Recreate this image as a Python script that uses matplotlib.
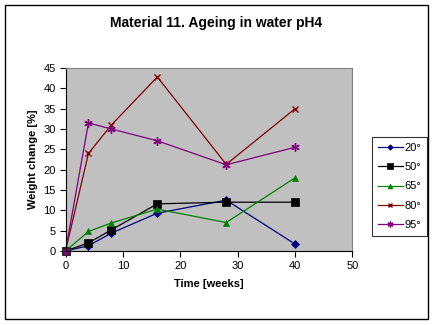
import matplotlib
matplotlib.use("Agg")
import matplotlib.pyplot as plt
from matplotlib.patches import Rectangle

plt.rcParams['font.family'] = ['Liberation Sans', 'DejaVu Sans']

weeks = [0, 4, 8, 16, 28, 40]
labels = ["20°", "50°", "65°", "80°", "95°"]
s20 = [0, 1.3, 4.4, 9.3, 12.5, 1.7]
s50 = [0, 2.0, 5.2, 11.6, 12.0, 12.0]
s65 = [0, 4.8, 6.9, 10.3, 7.0, 18.0]
s80 = [0, 24.0, 31.0, 42.8, 21.3, 35.0]
s95 = [0, 31.5, 30.0, 27.1, 21.2, 25.5]
xticks = [0, 10, 20, 30, 40, 50]
yticks = [0, 5, 10, 15, 20, 25, 30, 35, 40, 45]

series = [s20, s50, s65, s80, s95]
colors = ["#000080", "#000000", "#008000", "#800000", "#800080"]
markers = ["D", "s", "^", "x", (6, 2, 0)]
msizes = [4, 5.5, 5, 5, 6]

fig = plt.figure(figsize=(4.35, 3.25), dpi=100)
W, H = 435, 325
fig.patches.append(Rectangle((5 / W, 1 - 319 / H), 423 / W, 314 / H,
                             transform=fig.transFigure, fill=False,
                             edgecolor="black", linewidth=1.0))

ax = fig.add_axes([65.5 / W, 1 - 251 / H, 287 / W, 183 / H])
ax.set_facecolor("#C0C0C0")
for i, (ys, c, m, ms, lab) in enumerate(zip(series, colors, markers, msizes, labels)):
    ax.plot(weeks, ys, color=c, marker=m, markersize=ms, linewidth=0.9,
            markeredgewidth=1.0 if m in ("x",) or isinstance(m, tuple) else 0.5,
            markerfacecolor=c, markeredgecolor=c, label=lab, clip_on=False)

ax.set_xlim(0, 50)
ax.set_ylim(0, 45)
ax.set_xticks(xticks)
ax.set_yticks(yticks)
ax.tick_params(direction="out", length=4, width=0.8, labelsize=8, pad=3)
ax.spines['top'].set_color("#808080")
ax.spines['right'].set_color("#808080")
for s in ax.spines.values():
    s.set_linewidth(0.8)
ax.set_xlabel("Time [weeks]", fontsize=8, fontweight="bold", labelpad=6)
ax.set_ylabel("Weight change [%]", fontsize=8, fontweight="bold", labelpad=4)

fig.text(216 / W, 1 - 23 / H, "Material 11. Ageing in water pH4",
         ha="center", va="center", fontsize=10, fontweight="bold")

leg = ax.legend(loc="upper left", bbox_to_anchor=(372 / W, 1 - 137 / H),
                bbox_transform=fig.transFigure, fontsize=8, frameon=True,
                fancybox=False, edgecolor="black", handlelength=2.3,
                markerscale=0.7, labelspacing=0.85, borderpad=0.5,
                handletextpad=0.15, borderaxespad=0)
leg.get_frame().set_linewidth(0.8)

fig.savefig("out.png", dpi=100)
